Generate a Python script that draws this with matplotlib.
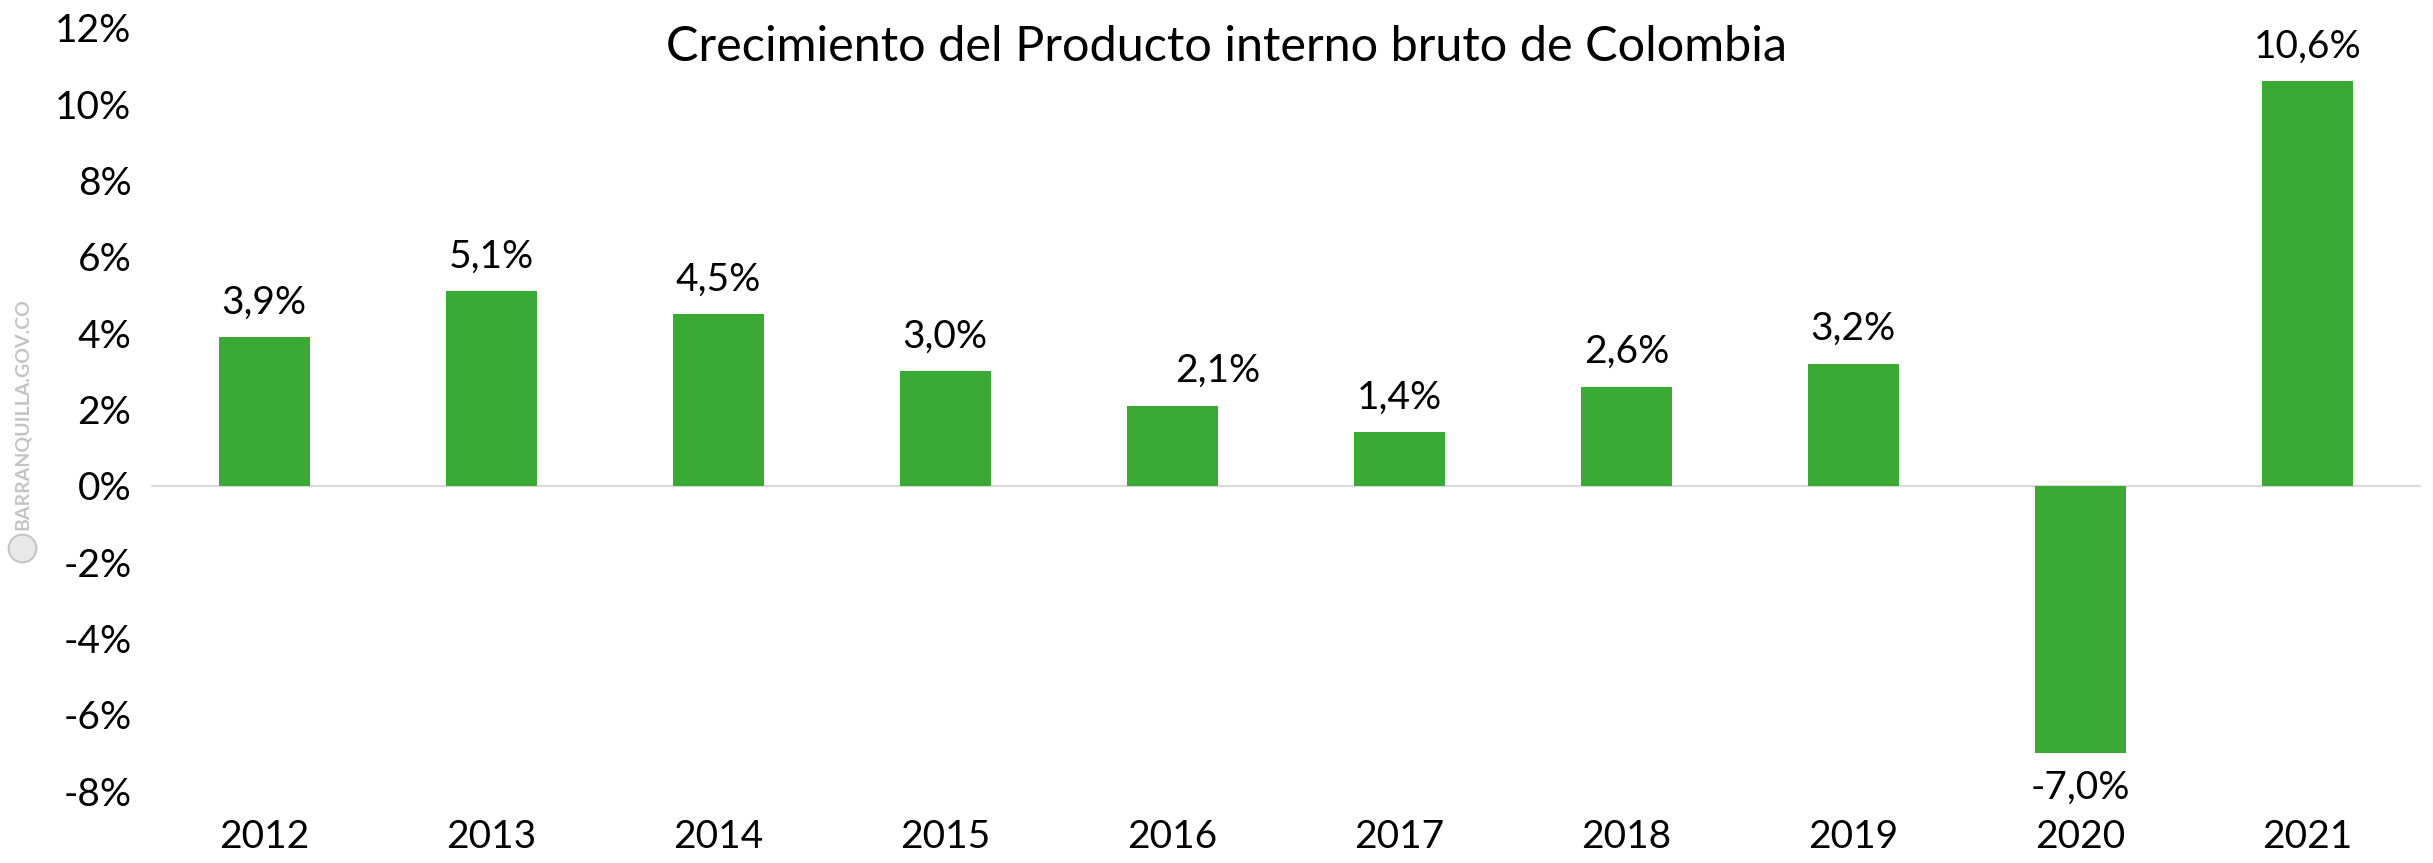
import matplotlib
matplotlib.use("Agg")
import matplotlib.pyplot as plt
import numpy as np
from matplotlib.lines import Line2D

years = ["2012", "2013", "2014", "2015", "2016", "2017", "2018", "2019", "2020", "2021"]
growth = [3.9, 5.1, 4.5, 3.0, 2.1, 1.4, 2.6, 3.2, -7.0, 10.6]
yticks = [-8, -6, -4, -2, 0, 2, 4, 6, 8, 10, 12]

plt.rcParams['font.family'] = ['Lato', 'DejaVu Sans']

fig = plt.figure(figsize=(24.33, 8.63), dpi=100)
ax = fig.add_axes([0.062, 0.0834, 0.933, 0.8842])

x = np.arange(len(years))
ax.bar(x, growth, width=0.4, color="#3aaa35", zorder=2)
ax.axhline(0, color="#d9d9d9", linewidth=1.5, zorder=1)

# value labels, comma as decimal mark
for i, v in enumerate(growth):
    txt = ("%.1f%%" % v).replace(".", ",")
    dx = 0.2 if years[i] == "2016" else 0
    off = 25 if v >= 0 else -25
    ax.annotate(txt, (i + dx, v), xytext=(0, off), textcoords="offset points",
                ha="center", va="center", fontsize=28)

ax.set_xlim(-0.5, 9.5)
ax.set_ylim(-8, 12)
ax.set_yticks(yticks)
ax.set_yticklabels(["%d%%" % t for t in yticks], fontsize=28)
ax.set_xticks(x)
ax.set_xticklabels(years, fontsize=28)
ax.tick_params(length=0)
ax.tick_params(axis="y", pad=14)
ax.tick_params(axis="x", pad=20)
for s in ax.spines.values():
    s.set_visible(False)

fig.text(0.504, 0.946, "Crecimiento del Producto interno bruto de Colombia",
         ha="center", va="center", fontsize=35)

# watermark
fig.text(0.009, 0.52, "BARRANQUILLA.GOV.CO", rotation=90, ha="center", va="center",
         fontsize=14, color="#c4c4c4", fontweight="bold")
fig.add_artist(Line2D([0.009], [0.365], transform=fig.transFigure, marker="o",
                      markersize=20, markerfacecolor="#e8e8e8",
                      markeredgecolor="#c4c4c4", markeredgewidth=1.5, linestyle="none"))

fig.savefig("out.png", dpi=100)
